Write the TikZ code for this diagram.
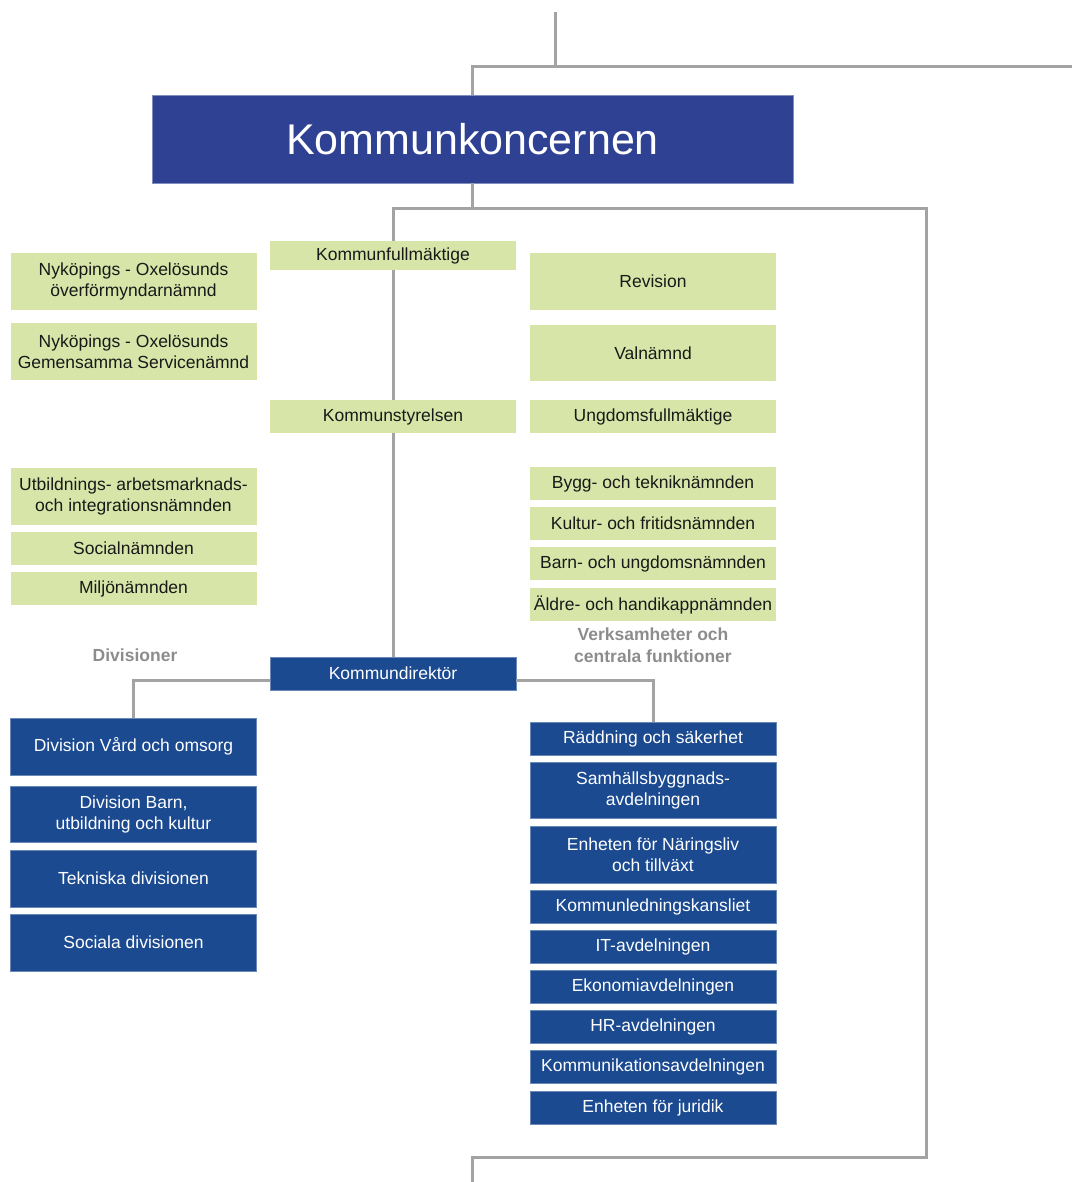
\documentclass[tikz,border=0pt]{standalone}
\usepackage{fontspec}
\setmainfont{Liberation Sans}
\usetikzlibrary{calc}
\definecolor{koncernbla}{HTML}{2E4192}
\definecolor{enhetbla}{HTML}{1B4A91}
\definecolor{namndgron}{HTML}{D7E6A8}
\definecolor{linjegra}{HTML}{A3A3A3}
\definecolor{rubrikgra}{HTML}{8C8C8C}
\tikzset{org box/.style={inner sep=0pt, minimum width=246pt, align=center,
           font=\fontsize{17.5}{21}\selectfont},
     namnd/.style={org box, fill=namndgron, text=black!90},
     enhet/.style={org box, fill=enhetbla, text=white,
           draw=enhetbla!65!white, line width=0.8pt},
     gren/.style={draw=linjegra, line width=3pt},
     grupp/.style={font=\fontsize{17.5}{22}\selectfont\bfseries,
           text=rubrikgra, align=center}
}
\def\colL{133.5}
\def\colM{393}
\def\colR{653}
% #1 namn, #2 x, #3 topp, #4 botten, #5 text
\def\Namnd#1#2#3#4#5{%
 \node[namnd, minimum height={(#4-#3)*1pt}] (#1) at (#2,{(#3+#4)/2}) {#5};
}
\def\Enhet#1#2#3#4#5{%
 \node[enhet, minimum height={(#4-#3)*1pt}] (#1) at (#2,{(#3+#4)/2}) {#5};
}
\begin{document}
\begin{tikzpicture}[x=1pt, y=-1pt]
\useasboundingbox (0,0) rectangle (1072,1182);
\node[fill=koncernbla, text=white, draw=koncernbla!60!white, line width=0.8pt,
  minimum width=641pt, minimum height=88pt, inner sep=0pt,
  font=\fontsize{43}{50}\selectfont] (koncern) at (472.5,139) {Kommunkoncernen};

\Namnd{kf}{\colM}{241}{270}{Kommunfullmäktige}
\Namnd{ks}{\colM}{400}{433}{Kommunstyrelsen}
\Enhet{kd}{\colM}{657}{690}{Kommundirektör}

\Namnd{overf}{\colL}{253}{310}{Nyköpings - Oxelösunds\\överförmyndarnämnd}
\Namnd{service}{\colL}{323}{380}{Nyköpings - Oxelösunds\\Gemensamma Servicenämnd}
\Namnd{uan}{\colL}{468}{525}{Utbildnings- arbetsmarknads-\\och integrationsnämnden}
\Namnd{social}{\colL}{532}{565}{Socialnämnden}
\Namnd{miljo}{\colL}{572}{605}{Miljönämnden}

\Namnd{revision}{\colR}{253}{310}{Revision}
\Namnd{val}{\colR}{325}{381}{Valnämnd}
\Namnd{ungdom}{\colR}{400}{433}{Ungdomsfullmäktige}
\Namnd{bygg}{\colR}{467}{500}{Bygg- och tekniknämnden}
\Namnd{kultur}{\colR}{507}{540}{Kultur- och fritidsnämnden}
\Namnd{barn}{\colR}{547}{580}{Barn- och ungdomsnämnden}
\Namnd{aldre}{\colR}{588}{621}{Äldre- och handikappnämnden}

\node[grupp] (divisioner) at (135,655) {Divisioner};
\node[grupp] (verksamheter) at (\colR,645) {Verksamheter och\\centrala funktioner};

\Enhet{vard}{\colL}{718}{775}{Division Vård och omsorg}
\Enhet{buk}{\colL}{786}{842}{Division Barn,\\utbildning och kultur}
\Enhet{teknik}{\colL}{850}{907}{Tekniska divisionen}
\Enhet{sociala}{\colL}{914}{971}{Sociala divisionen}

\Enhet{raddning}{\colR}{722}{755}{Räddning och säkerhet}
\Enhet{samhall}{\colR}{762}{818}{Samhällsbyggnads-\\avdelningen}
\Enhet{naring}{\colR}{826}{883}{Enheten för Näringsliv\\och tillväxt}
\Enhet{kansli}{\colR}{890}{923}{Kommunledningskansliet}
\Enhet{it}{\colR}{930}{963}{IT-avdelningen}
\Enhet{ekonomi}{\colR}{970}{1003}{Ekonomiavdelningen}
\Enhet{hr}{\colR}{1010}{1043}{HR-avdelningen}
\Enhet{kommunikation}{\colR}{1050}{1083}{Kommunikationsavdelningen}
\Enhet{juridik}{\colR}{1091}{1124}{Enheten för juridik}

% linjer
\coordinate (topp) at (555,12);
\coordinate (knut) at (555,67);
\coordinate (ut) at (1072,67);
\coordinate (delning) at (472.5,209);
\coordinate (ramtopp) at (926,209);
\coordinate (ramfot) at (926,1157);
\coordinate (slut) at (472,1182);
\draw[gren] (topp) -- (knut);
\draw[gren] (ut) -| (koncern.north);
\draw[gren] (koncern.south) -- (delning);
\draw[gren] (kf.north) |- (ramtopp) -- (ramfot) -| (slut);
\draw[gren] (kf) -- (ks);
\draw[gren] (ks) -- (kd);
\draw[gren] ([yshift=-6.5pt]kd.west) -| (vard);
\draw[gren] ([yshift=-6.5pt]kd.east) -| (raddning);
\end{tikzpicture}
\end{document}
